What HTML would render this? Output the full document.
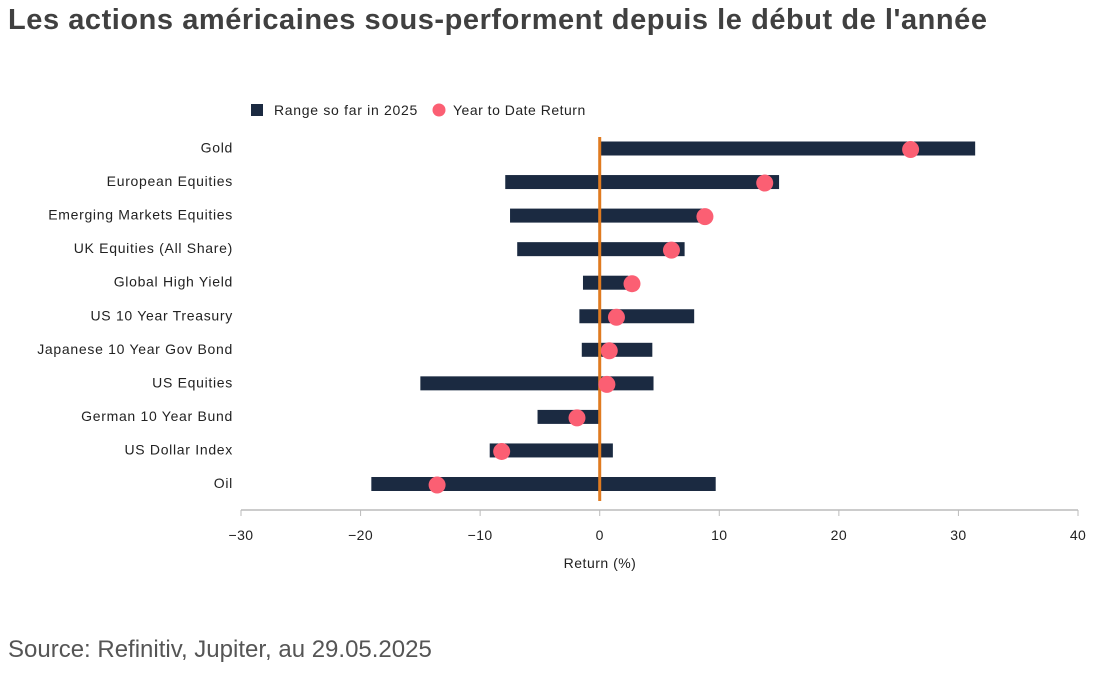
<!DOCTYPE html>
<html><head><meta charset="utf-8"><style>
body{margin:0;width:1114px;height:673px;background:#fff;font-family:"Liberation Sans",sans-serif;overflow:hidden}
#title{position:absolute;left:8px;top:4px;font-size:29px;letter-spacing:0.55px;font-weight:bold;color:#404040;white-space:nowrap}
#src{position:absolute;left:8px;top:636px;font-size:24px;color:#555;white-space:nowrap}
svg{position:absolute;left:0;top:0}
</style></head><body>
<div id="title">Les actions américaines sous-performent depuis le début de l'année</div>
<div id="src">Source: Refinitiv, Jupiter, au 29.05.2025</div>
<svg id="chart" width="1114" height="673"></svg>
<script>
const categories=["Gold","European Equities","Emerging Markets Equities","UK Equities (All Share)","Global High Yield","US 10 Year Treasury","Japanese 10 Year Gov Bond","US Equities","German 10 Year Bund","US Dollar Index","Oil"];
const rangeMin=[0.1,-7.9,-7.5,-6.9,-1.4,-1.7,-1.5,-15.0,-5.2,-9.2,-19.1];
const rangeMax=[31.4,15.0,8.8,7.1,2.4,7.9,4.4,4.5,-0.1,1.1,9.7];
const ytd=[26.0,13.8,8.8,6.0,2.7,1.4,0.8,0.6,-1.9,-8.2,-13.6];
const ticks=[-30,-20,-10,0,10,20,30,40];
const NS="http://www.w3.org/2000/svg";
const svg=document.getElementById('chart');
const x=v=>241+(v+30)*(837/70);
const y=i=>148.5+i*33.55;
function mk(t,a,txt){const e=document.createElementNS(NS,t);for(const k in a)e.setAttribute(k,a[k]);if(txt!==undefined)e.textContent=txt;svg.appendChild(e);return e;}
const F='"Liberation Sans",sans-serif';
let ax=mk('line',{x1:241,x2:1078,y1:510,y2:510,stroke:'#bbb','stroke-width':1.5});


ticks.forEach(t=>{
 let l=mk('line',{x1:x(t),x2:x(t),y1:510,y2:516,stroke:'#bbb'});
 
 
 let tx=mk('text',{x:x(t),y:540,'text-anchor':'middle','font-size':14,fill:'#222','font-family':F,'letter-spacing':0.4},t<0?'\u2212'+(-t):t);
 
 
});
let at=mk('text',{x:600,y:568,'text-anchor':'middle','font-size':14,fill:'#222','font-family':F,'letter-spacing':0.5},'Return (%)');


categories.forEach((c,i)=>{
 let lb=mk('text',{x:233,y:y(i)+4,'text-anchor':'end','font-size':14,fill:'#222','font-family':F,'letter-spacing':0.7},c);
 
 
 let b=mk('rect',{x:x(rangeMin[i]),y:y(i)-7,width:x(rangeMax[i])-x(rangeMin[i]),height:14,fill:'#1b2a41'});
 
 
});
let zl=mk('line',{x1:x(0),x2:x(0),y1:137,y2:501,stroke:'#e07b20','stroke-width':3});


categories.forEach((c,i)=>{
 let d=mk('circle',{cx:x(ytd[i]),cy:y(i)+1,r:8.5,fill:'#fb5f73'});
 
 
});
let l1=mk('rect',{x:251,y:104,width:12,height:12,fill:'#1b2a41'});


let l2=mk('text',{x:274,y:115,'font-size':14,fill:'#222','font-family':F,'letter-spacing':0.7},'Range so far in 2025');


let l3=mk('circle',{cx:439,cy:110,r:6.5,fill:'#fb5f73'});


let l4=mk('text',{x:453,y:115,'font-size':14,fill:'#222','font-family':F,'letter-spacing':0.5},'Year to Date Return');


</script>
</body></html>
